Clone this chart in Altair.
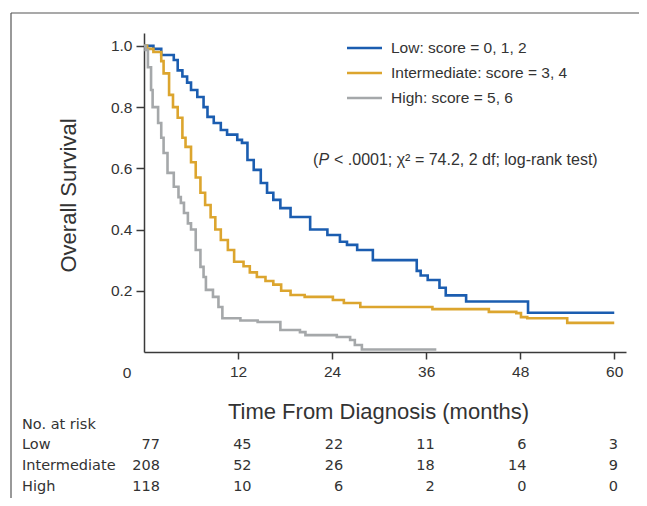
import altair as alt
import pandas as pd

# ---------------- data ----------------
groups = ["Low", "Intermediate", "High"]
legend_labels = ["Low: score = 0, 1, 2", "Intermediate: score = 3, 4", "High: score = 5, 6"]
colors = ["#1b5db0", "#dca52e", "#a5a8aa"]

low_t = [0, 1.2, 2.2, 3.8, 4.3, 4.9, 5.5, 6.0, 6.8, 7.6, 8.1, 8.9, 9.8, 10.6, 11.9, 12.5,
         13.2, 14.0, 14.9, 15.7, 16.5, 17.4, 18.7, 21.2, 23.4, 25.0, 25.9, 27.2, 29.2, 34.8,
         35.3, 36.2, 37.7, 38.5, 41.1, 49.0, 60.0]
low_s = [1.0, 0.99, 0.97, 0.954, 0.92, 0.90, 0.88, 0.856, 0.833, 0.80, 0.768, 0.748, 0.725,
         0.71, 0.693, 0.683, 0.627, 0.595, 0.552, 0.52, 0.497, 0.47, 0.441, 0.40, 0.382, 0.36,
         0.35, 0.333, 0.30, 0.265, 0.25, 0.235, 0.21, 0.185, 0.165, 0.128, 0.128]

int_t = [0, 0.4, 1.2, 2.2, 2.5, 3.2, 3.7, 4.3, 4.9, 5.3, 6.0, 6.6, 7.2, 7.8, 8.5, 9.1, 9.8,
         10.7, 11.5, 12.7, 13.5, 14.4, 15.5, 16.5, 17.5, 18.7, 20.5, 24.1, 25.5, 27.6, 36.8,
         44.0, 47.5, 48.1, 48.9, 54.0, 60.0]
int_s = [1.0, 0.99, 0.98, 0.95, 0.91, 0.84, 0.80, 0.765, 0.70, 0.67, 0.62, 0.57, 0.52, 0.48,
         0.44, 0.40, 0.366, 0.333, 0.295, 0.28, 0.26, 0.245, 0.232, 0.22, 0.20, 0.186, 0.18,
         0.17, 0.16, 0.147, 0.14, 0.131, 0.127, 0.114, 0.11, 0.095, 0.095]

high_t = [0, 0.2, 0.5, 0.9, 1.1, 1.8, 2.2, 2.5, 3.0, 3.8, 4.4, 4.7, 5.1, 5.6, 6.0, 6.6, 7.2,
          7.6, 7.9, 8.8, 9.5, 10.0, 12.3, 14.5, 17.4, 19.9, 20.6, 24.6, 26.3, 26.9, 27.8, 37.3]
high_s = [1.0, 0.987, 0.93, 0.856, 0.80, 0.748, 0.70, 0.65, 0.585, 0.54, 0.506, 0.487, 0.454,
          0.42, 0.40, 0.333, 0.278, 0.245, 0.203, 0.18, 0.147, 0.11, 0.103, 0.098, 0.072,
          0.065, 0.055, 0.049, 0.039, 0.023, 0.008, 0.008]

x_ticks = [12, 24, 36, 48, 60]
y_ticks = [0.2, 0.4, 0.6, 0.8, 1.0]

risk_times = [0, 12, 24, 36, 48, 60]
risk_low = [77, 45, 22, 11, 6, 3]
risk_int = [208, 52, 26, 18, 14, 9]
risk_high = [118, 10, 6, 2, 0, 0]

x_title = "Time From Diagnosis (months)"
y_title = "Overall Survival"
risk_title = "No. at risk"

# ---------------- tables ----------------
rows = []
for g, ts, ss in [("Low", low_t, low_s), ("Intermediate", int_t, int_s), ("High", high_t, high_s)]:
    assert len(ts) == len(ss)
    for t, s in zip(ts, ss):
        rows.append({"group": g, "t": t, "S": s})
curve_df = pd.DataFrame(rows)

risk_rows = []
for g, ns in [("Low", risk_low), ("Intermediate", risk_int), ("High", risk_high)]:
    for t, n in zip(risk_times, ns):
        risk_rows.append({"group": g, "t": t, "n": n})
risk_df = pd.DataFrame(risk_rows)

legend_df = pd.DataFrame({"group": groups, "label": legend_labels})
group_df = pd.DataFrame({"group": groups})

W, H = 482, 319
FONT = "Liberation Sans"
TFONT = "DejaVu Sans"
AX = "#3a3a3a"
TXT = "#333333"

color = alt.Color("group:N", scale=alt.Scale(domain=groups, range=colors), legend=None)
swidth = alt.StrokeWidth("group:N", scale=alt.Scale(domain=groups, range=[2.6, 2.6, 2.0]), legend=None)

curves = alt.Chart(curve_df).mark_line(interpolate="step-after").encode(
    x=alt.X("t:Q", scale=alt.Scale(domain=[0, 61.5], nice=False, zero=False),
            axis=alt.Axis(values=x_ticks, title=x_title, tickSize=7, labelPadding=5,
                          titleX=234, titleY=59, titleBaseline="middle", titleAlign="center",
                          titleFontSize=22)),
    y=alt.Y("S:Q", scale=alt.Scale(domain=[0, 1.042], nice=False),
            axis=alt.Axis(values=y_ticks, format=".1f", title=y_title, tickSize=8, labelPadding=4,
                          titleX=-76, titleY=162, titleAngle=-90, titleBaseline="middle",
                          titleAlign="center", titleFontSize=22)),
    color=color,
    strokeWidth=swidth,
    detail="group:N",
)

zero_label = alt.Chart(pd.DataFrame({"lab": ["0"]})).mark_text(
    font=FONT, fontSize=15.5, color=TXT, align="center", baseline="middle"
).encode(x=alt.value(-17), y=alt.value(H + 21), text="lab:N")

leg_y = alt.Y("group:N", scale=alt.Scale(type="point", domain=groups, range=[15, 65], padding=0), axis=None)
legend_lines = alt.Chart(legend_df).mark_rule().encode(
    x=alt.value(203), x2=alt.value(238), y=leg_y, color=color, strokeWidth=swidth
)
legend_text = alt.Chart(legend_df).mark_text(
    font=FONT, fontSize=15.5, color=TXT, align="left", baseline="middle"
).encode(x=alt.value(247), y=leg_y, text="label:N")

ann = pd.DataFrame({"a": ["("], "b": ["P"], "c": ["< .0001; \u03c7\u00b2 = 74.2, 2 df; log-rank test)"]})
ann1 = alt.Chart(ann).mark_text(font=FONT, fontSize=16, color=TXT, align="left", baseline="middle").encode(
    x=alt.value(169), y=alt.value(127), text="a:N")
ann2 = alt.Chart(ann).mark_text(font=FONT, fontSize=16, fontStyle="italic", color=TXT, align="left",
                                baseline="middle").encode(x=alt.value(174.5), y=alt.value(127), text="b:N")
ann3 = alt.Chart(ann).mark_text(font=FONT, fontSize=16, color=TXT, align="left", baseline="middle").encode(
    x=alt.value(190), y=alt.value(127), text="c:N")

risk_y = alt.Y("group:N", scale=alt.Scale(type="point", domain=groups, range=[412, 454], padding=0), axis=None)
risk_nums = alt.Chart(risk_df).mark_text(
    font=TFONT, fontSize=14.5, color=TXT, align="right", baseline="middle"
).encode(
    x=alt.X("t:Q", scale=alt.Scale(domain=[0, 60], range=[16, 474]), axis=None),
    y=risk_y,
    text="n:Q",
)
risk_names = alt.Chart(group_df).mark_text(
    font=TFONT, fontSize=14.5, color=TXT, align="left", baseline="middle"
).encode(x=alt.value(-122), y=risk_y, text="group:N")
risk_head = alt.Chart(pd.DataFrame({"lab": [risk_title]})).mark_text(
    font=TFONT, fontSize=14.5, color=TXT, align="left", baseline="middle"
).encode(x=alt.value(-122), y=alt.value(392), text="lab:N")

frame_top = alt.Chart(pd.DataFrame({"k": [0]})).mark_rule(color="#555", strokeWidth=1.2).encode(
    x=alt.value(-133), x2=alt.value(520), y=alt.value(-20))
frame_left = alt.Chart(pd.DataFrame({"k": [0]})).mark_rule(color="#555", strokeWidth=1.2).encode(
    x=alt.value(-133), y=alt.value(-20), y2=alt.value(520))

chart = alt.layer(
    frame_top, frame_left, curves, zero_label, legend_lines, legend_text, ann1, ann2, ann3,
    risk_nums, risk_names, risk_head,
).resolve_scale(
    x="independent", y="independent"
).properties(
    width=W, height=H,
    autosize=alt.AutoSizeParams(type="none"),
    padding={"left": 136, "top": 25, "right": 13, "bottom": 146},
).configure_view(stroke=None).configure_axis(
    grid=False, domainColor=AX, domainWidth=1.5, tickColor=AX, tickWidth=1.5,
    labelFont=FONT, labelFontSize=15.5, labelColor=TXT,
    titleFont=FONT, titleFontWeight="normal", titleColor=TXT,
)

chart.save("out.html", embed_options={"renderer": "svg", "actions": False})
